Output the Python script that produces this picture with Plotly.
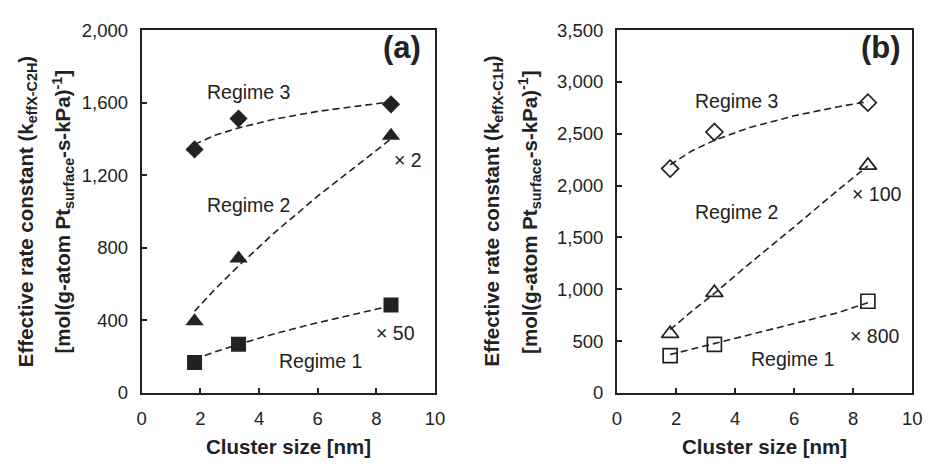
import plotly.graph_objects as go

# ---------------- data ----------------
size_nm = [1.8, 3.3, 8.5]

# panel (a)  k_effX-C2H
a_regime3 = [1342, 1512, 1591]
a_regime2 = [395, 741, 1418]
a_regime1 = [168, 268, 484]

# panel (b)  k_effX-C1H
b_regime3 = [2164, 2517, 2800]
b_regime2 = [571, 967, 2195]
b_regime1 = [359, 469, 884]

# dashed trend curves
trend_x = [1.8, 2.5, 3.3, 4.5, 6.0, 7.5, 8.5]
a_trend3 = [1370, 1420, 1461, 1508, 1552, 1585, 1605]
a_trend2 = [450, 572, 700, 879, 1085, 1277, 1400]
a_trend1 = [185, 226, 268, 325, 387, 444, 480]
b_trend3 = [2200, 2329, 2438, 2560, 2673, 2761, 2810]
b_trend2 = [610, 780, 960, 1250, 1600, 1960, 2190]
b_trend1 = [370, 420, 475, 560, 665, 775, 870]

x_ticks = [0, 2, 4, 6, 8, 10]
a_ticks = [0, 400, 800, 1200, 1600, 2000]
b_ticks = [0, 500, 1000, 1500, 2000, 2500, 3000, 3500]

W, H = 933, 464
FONT = "Liberation Sans, Arial, sans-serif"
INK = "#222222"

fig = go.Figure()

def add_panel(xa, ya, trends, series, filled):
    for t in trends:
        fig.add_trace(go.Scatter(x=trend_x, y=t, xaxis=xa, yaxis=ya, mode="lines",
                                 line=dict(color=INK, width=1.6, dash="7px,4px"),
                                 showlegend=False, hoverinfo="skip"))
    symbols = ["diamond", "triangle-up", "square"]
    sizes = [14, 16, 15]
    for vals, sym, sz in zip(series, symbols, sizes):
        if filled:
            mk = dict(symbol=sym, size=sz, color=INK, line=dict(color=INK, width=0))
        else:
            mk = dict(symbol=sym + "-open", size=sz - 1, color=INK, line=dict(color=INK, width=1.7))
        fig.add_trace(go.Scatter(x=size_nm, y=vals, xaxis=xa, yaxis=ya, mode="markers",
                                 marker=mk, showlegend=False))

add_panel("x", "y", [a_trend3, a_trend2, a_trend1], [a_regime3, a_regime2, a_regime1], True)
add_panel("x2", "y2", [b_trend3, b_trend2, b_trend1], [b_regime3, b_regime2, b_regime1], False)

ydom = [1 - 400 / H, 1 - 20 / H]
axis_common = dict(showline=True, mirror=True, linecolor=INK, linewidth=2,
                   ticks="inside", ticklen=5, tickwidth=1.5, tickcolor=INK,
                   showgrid=False, zeroline=False, ticklabelstandoff=8,
                   tickfont=dict(family=FONT, size=18.5, color=INK))

fig.update_layout(
    width=W, height=H, margin=dict(l=0, r=0, t=0, b=0),
    paper_bgcolor="white", plot_bgcolor="white",
    xaxis=dict(domain=[139 / W, 437 / W], range=[0, 10], tickvals=x_ticks, anchor="y", **axis_common),
    yaxis=dict(domain=ydom, range=[0, 2000], tickvals=a_ticks, tickformat=",d", anchor="x", **axis_common),
    xaxis2=dict(domain=[622 / W, 922 / W], range=[0, 10], tickvals=x_ticks, anchor="y2", **axis_common),
    yaxis2=dict(domain=ydom, range=[0, 3500], tickvals=b_ticks, tickformat=",d", anchor="x2", **axis_common),
)

def note(text, x, y, xref, yref, size=19.5, bold=False, angle=0):
    fig.add_annotation(text=text, x=x, y=y, xref=xref, yref=yref, showarrow=False,
                       textangle=angle, xanchor="center", yanchor="middle",
                       font=dict(family=FONT, size=size, color=INK,
                                 weight="bold" if bold else "normal"))

# panel (a) labels
note("Regime 3", 3.64, 1661, "x", "y")
note("Regime 2", 3.64, 1034, "x", "y")
note("Regime 1", 6.11, 174, "x", "y")
note("× 2", 9.09, 1285, "x", "y")
note("× 50", 8.66, 330, "x", "y")
note("<b>(a)</b>", 8.89, 1905, "x", "y", size=31)
# panel (b) labels
note("Regime 3", 4.05, 2818, "x2", "y2")
note("Regime 2", 4.05, 1745, "x2", "y2")
note("Regime 1", 5.93, 327, "x2", "y2")
note("× 100", 8.8, 1915, "x2", "y2")
note("× 800", 8.73, 545, "x2", "y2")
note("<b>(b)</b>", 8.93, 3335, "x2", "y2", size=31)

# axis titles
for cx in (288, 772):
    note("<b>Cluster size [nm]</b>", cx / W, 1 - 456 / H, "paper", "paper", size=20.5)

yc = 1 - 210 / H
note("<b>Effective rate constant (k<sub>effX-C2H</sub>)</b>", 23 / W, yc, "paper", "paper", size=20.5, angle=-90)
note("<b>[mol(g-atom Pt<sub>surface</sub>-s-kPa)<sup>-1</sup>]</b>", 59 / W, yc, "paper", "paper", size=20.5, angle=-90)
note("<b>Effective rate constant (k<sub>effX-C1H</sub>)</b>", 496 / W, yc, "paper", "paper", size=20.5, angle=-90)
note("<b>[mol(g-atom Pt<sub>surface</sub>-s-kPa)<sup>-1</sup>]</b>", 533 / W, yc, "paper", "paper", size=20.5, angle=-90)

fig.write_html("out.html")
